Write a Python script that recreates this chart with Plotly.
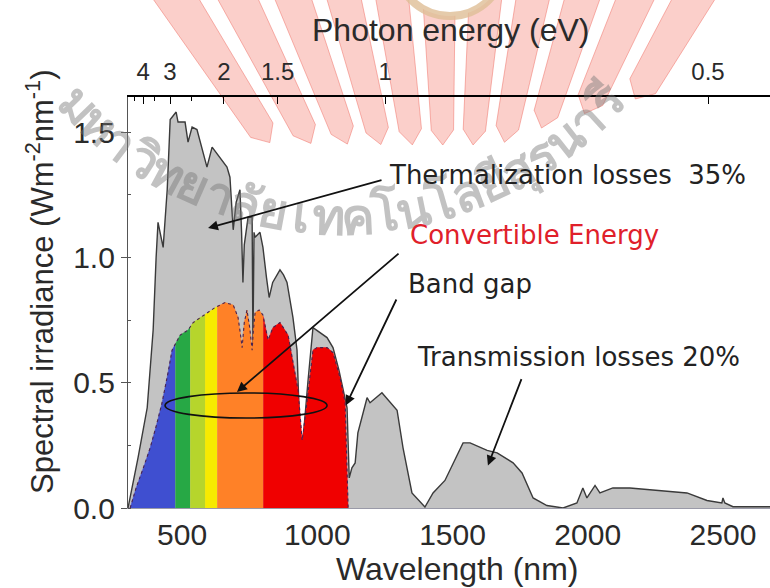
import numpy as np
import plotly.graph_objects as go

# ---------------- data ----------------
wl_total = [300, 337, 371, 389, 393, 404, 411, 430, 445, 456, 478, 485, 511, 522, 537, 555,
            592, 611, 666, 677, 689, 700, 714, 720, 725, 730, 744, 759, 762, 766, 770, 788,
            799, 812, 822, 835, 862, 875, 888, 910, 925, 936, 947, 965, 984, 1036, 1058, 1080,
            1103, 1110, 1118, 1128, 1140, 1150, 1184, 1195, 1239, 1262, 1295, 1317, 1350, 1398,
            1428, 1472, 1539, 1565, 1628, 1665, 1724, 1757, 1798, 1849, 1909, 1960, 1982, 1997,
            2027, 2045, 2093, 2156, 2278, 2367, 2441, 2496, 2500, 2507, 2537, 2674]
irr_total = [0.00, 0.20, 0.40, 0.64, 0.71, 1.00, 1.14, 1.04, 1.27, 1.55, 1.58, 1.54, 1.54, 1.46, 1.52, 1.51,
             1.36, 1.44, 1.36, 1.32, 1.11, 1.22, 1.27, 1.10, 0.90, 1.05, 1.16, 1.16, 0.64, 1.10, 1.08, 1.10,
             1.04, 0.92, 0.84, 0.90, 0.95, 0.93, 0.90, 0.76, 0.63, 0.28, 0.27, 0.50, 0.72, 0.68, 0.64, 0.55,
             0.44, 0.40, 0.12, 0.16, 0.18, 0.30, 0.44, 0.42, 0.46, 0.43, 0.39, 0.24, 0.06, 0.004,
             0.06, 0.11, 0.26, 0.26, 0.23, 0.22, 0.18, 0.14, 0.04, 0.01, 0.00, 0.02, 0.08, 0.04,
             0.09, 0.06, 0.08, 0.08, 0.07, 0.06, 0.03, 0.02, 0.04, 0.02, 0.005, 0.005]

wl_conv = [308, 330, 360, 382, 405, 426, 448, 463, 493, 522, 541, 567, 596, 622, 659, 689, 700, 707,
           715, 722, 730, 740, 750, 759, 763, 770, 785, 799, 818, 836, 862, 892, 929, 944, 955, 984,
           999, 1036, 1058, 1084, 1103, 1114]
irr_conv = [0.00, 0.08, 0.17, 0.24, 0.33, 0.42, 0.54, 0.63, 0.69, 0.71, 0.74, 0.76, 0.78, 0.80, 0.82, 0.81, 0.78, 0.76,
            0.70, 0.64, 0.74, 0.79, 0.72, 0.63, 0.70, 0.78, 0.79, 0.77, 0.67, 0.72, 0.74, 0.69, 0.47, 0.27, 0.36, 0.63,
            0.64, 0.64, 0.62, 0.52, 0.42, 0.00]

band_edges = [308, 475, 530, 585, 630, 800, 1114]
band_colors = ["#3f4fd0", "#27a845", "#b6d52c", "#f7ea00", "#ff8127", "#f00000"]

photon_energy_ticks = [4, 3, 2, 1.5, 1, 0.5]
photon_energy_labels = ["4", "3", "2", "1.5", "1", "0.5"]
photon_energy_minor = [4.5, 3.5, 2.5]
x_ticks = [500, 1000, 1500, 2000, 2500]
y_ticks = [0.0, 0.5, 1.0, 1.5]
y_tick_labels = ["0.0", "0.5", "1.0", "1.5"]

watermark_clusters = ["ม", "ห", "า", "วิ", "ท", "ย", "า", "ลั", "ย", "เ", "ท", "ค", "โ", "น", "โ", "ล",
                      "ยี", "สุ", "ร", "น", "า", "รี"]

# ---------------- layout geometry ----------------
W, H = 770, 588
L, R, T, B = 128, 0, 97, 80
PW, PH = W - L - R, H - T - B


def px(x):
    return (x - L) / PW


def py(y):
    return (H - B - y) / PH


X_RANGE = [300, 2674]
X2_RANGE = [252, 2718]
Y_RANGE = [0, 1.64]

fig = go.Figure()

# ---- watermark: pink sunburst logo at the top (decoration) ----
shapes = []
CX, CY = 450, 420
for ang in np.linspace(-33, 30, 11):
    th = np.radians(ang)
    hw = np.radians(2.2)
    y_bot = 130 if ang < 10 else 130 - (ang - 10) * 2.2
    r_in = (CY - y_bot) / np.cos(th)
    r_out = 520
    pts = []
    for rr, dth in [(r_in, -hw), (r_out, -hw), (r_out, hw), (r_in, hw), (r_in - 15, 0)]:
        xx = CX + rr * np.sin(th + dth)
        yy = CY - rr * np.cos(th + dth)
        pts.append((px(xx), py(yy)))
    path = "M " + " L ".join(f"{a:.4f},{b:.4f}" for a, b in pts) + " Z"
    shapes.append(dict(type="path", path=path, xref="paper", yref="paper", layer="below",
                       fillcolor="rgba(247,160,150,0.5)", line=dict(color="rgba(240,110,100,0.5)", width=1)))
shapes.append(dict(type="circle", xref="paper", yref="paper", layer="below",
                   x0=px(395), x1=px(505), y0=py(16), y1=py(-94),
                   fillcolor="white", line=dict(color="rgba(222,190,150,0.8)", width=8)))

# Thai watermark text along an arc
n = len(watermark_clusters)
phis = np.linspace(-46, 47, n)
for ch, ph in zip(watermark_clusters, phis):
    r = np.radians(ph)
    cx = 340 + 362 * np.sin(r)
    cy = -147 + 362 * np.cos(r)
    fig.add_annotation(x=px(cx), y=py(cy), xref="paper", yref="paper", text=f"<b>{ch}</b>",
                       showarrow=False, xanchor="center", yanchor="middle",
                       textangle=-ph, font=dict(size=50, color="rgba(120,120,120,0.45)",
                                                family="Noto Sans, DejaVu Sans, sans-serif"))

# total spectrum
fig.add_trace(go.Scatter(x=wl_total, y=irr_total, mode="lines", fill="tozeroy",
                         fillcolor="#c3c3c3", line=dict(color="#3a3a3a", width=1.4),
                         hoverinfo="skip", showlegend=False))

# coloured convertible bands
wc = np.array(wl_conv, dtype=float)
ic = np.array(irr_conv, dtype=float)
for a, b, col in zip(band_edges[:-1], band_edges[1:], band_colors):
    inner = (wc > a) & (wc < b)
    xs = np.concatenate([[a], wc[inner], [b]])
    ys = np.concatenate([[np.interp(a, wc, ic)], ic[inner], [np.interp(b, wc, ic)]])
    fig.add_trace(go.Scatter(x=xs, y=ys, mode="lines", fill="tozeroy", fillcolor=col,
                             line=dict(color=col, width=0.5), hoverinfo="skip", showlegend=False))

fig.add_trace(go.Scatter(x=wl_conv, y=irr_conv, mode="lines",
                         line=dict(color="#4a2350", width=1.1, dash="dot"),
                         hoverinfo="skip", showlegend=False))

# dummy trace for the top axis
fig.add_trace(go.Scatter(x=X2_RANGE, y=[0, 0], xaxis="x2", mode="markers",
                         marker=dict(opacity=0), hoverinfo="skip", showlegend=False))

tick_font = dict(family="Liberation Sans, Arial, sans-serif", size=30, color="#2a2a2a")
fig.update_layout(
    width=W, height=H, margin=dict(l=L, r=R, t=T, b=B),
    paper_bgcolor="white", plot_bgcolor="rgba(0,0,0,0)",
    shapes=shapes,
    xaxis=dict(range=X_RANGE, tickvals=x_ticks, ticks="", showgrid=False, zeroline=False,
               showline=True, linecolor="#9a9aa8", linewidth=1, tickfont=tick_font),
    xaxis2=dict(range=X2_RANGE, overlaying="x", side="top", anchor="y",
                tickvals=[1240 / e for e in photon_energy_ticks], ticktext=photon_energy_labels,
                ticks="inside", ticklen=7, tickwidth=1.2, tickcolor="black", ticklabelstandoff=6,
                minor=dict(tickvals=[1240 / e for e in photon_energy_minor], ticks="inside",
                           ticklen=4, tickcolor="black"),
                showline=True, linecolor="black", linewidth=1.5, showgrid=False, zeroline=False,
                tickfont=dict(family="Liberation Sans, Arial, sans-serif", size=24, color="#2a2a2a")),
    yaxis=dict(range=Y_RANGE, tickvals=y_ticks, ticktext=y_tick_labels, ticks="outside", ticklen=6,
               tickcolor="#555", showline=True, linecolor="#555", linewidth=1.2, showgrid=False,
               zeroline=False, tickfont=tick_font,
               minor=dict(dtick=0.25, ticks="inside", ticklen=3, tickcolor="#555")),
)

title_font = dict(family="Liberation Sans, Arial, sans-serif", size=32, color="#2a2a2a")
fig.add_annotation(x=px(451), y=py(30), xref="paper", yref="paper", text="Photon energy (eV)",
                   showarrow=False, xanchor="center", yanchor="middle", font=title_font)
fig.add_annotation(x=px(457), y=py(569), xref="paper", yref="paper", text="Wavelength (nm)",
                   showarrow=False, xanchor="center", yanchor="middle", font=title_font)
fig.add_annotation(x=px(40), y=py(282), xref="paper", yref="paper", textangle=-90,
                   text="Spectral irradiance (Wm<sup>-2</sup>nm<sup>-1</sup>)",
                   showarrow=False, xanchor="center", yanchor="middle",
                   font=dict(title_font, size=31))

# labels
labels = [
    ("Thermalization losses  35%", 1258, 1.328, "#222222"),
    ("Convertible Energy", 1335, 1.089, "#e0202a"),
    ("Band gap", 1328, 0.893, "#222222"),
    ("Transmission losses 20%", 1361, 0.602, "#222222"),
]
for txt, x, y, c in labels:
    fig.add_annotation(x=x, y=y, xref="x", yref="y", text=txt, xanchor="left", yanchor="middle",
                       showarrow=False,
                       font=dict(family="DejaVu Sans, Verdana, sans-serif", size=26, color=c))

arrows = [  # head (x, y), tail (x, y)
    (596, 1.117, 1243, 1.31),
    (703, 0.463, 1306, 1.02),
    (1106, 0.41, 1295, 0.838),
    (1631, 0.17, 1757, 0.52),
]
for hx, hy, tx, ty in arrows:
    fig.add_annotation(x=hx, y=hy, ax=tx, ay=ty, xref="x", yref="y", axref="x", ayref="y",
                       text="", showarrow=True, arrowhead=2, arrowsize=1.1, arrowwidth=1.8,
                       arrowcolor="#111111")

fig.add_shape(type="circle", xref="x", yref="y", x0=437, x1=1036, y0=0.359, y1=0.459,
              line=dict(color="#111111", width=1.6))

fig.write_html("out.html")
